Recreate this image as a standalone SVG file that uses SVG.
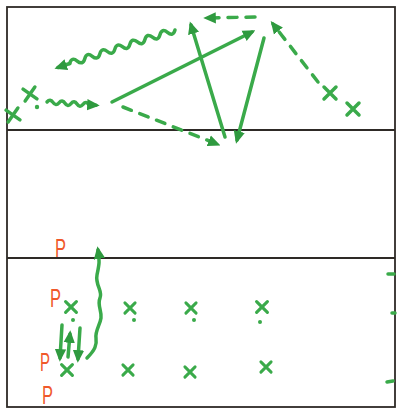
<svg xmlns="http://www.w3.org/2000/svg" xmlns:xlink="http://www.w3.org/1999/xlink" width="397" height="409" viewBox="0 0 397 409">
<style>
.frame{fill:none;stroke:#2e2a26;stroke-width:1.8}
.g{fill:none;stroke:#3aaa4a;stroke-width:3.5;stroke-linecap:round;stroke-linejoin:round}
.d{stroke-dasharray:9 9}
.dot{fill:#3aaa4a}
.p{font-family:"Liberation Sans",Arial,sans-serif;font-size:26px;fill:#f0582a}
</style>
<defs>
<marker id="ah" viewBox="0 0 10 10" refX="7" refY="5" markerWidth="3.6" markerHeight="3.6" orient="auto" markerUnits="strokeWidth">
<path d="M0,0.5 L10,5 L0,9.5 z" fill="#2f9a3f"/>
</marker>
<path id="x" d="M-6,-6 L6,6 M6,-6 L-6,6"/>
</defs>
<rect width="397" height="409" fill="#fff"/>
<g id="field">
<rect class="frame" x="7" y="7" width="388" height="400"/>
<line class="frame" x1="7" y1="130" x2="395" y2="130"/>
<line class="frame" x1="7" y1="258" x2="395" y2="258"/>
</g>
<g id="players">
<use href="#x" class="g" transform="translate(30,94) rotate(-10)"/>
<use href="#x" class="g" transform="translate(13,115) rotate(-10)"/>
<use href="#x" class="g" transform="translate(330,93)"/>
<use href="#x" class="g" transform="translate(353,109)"/>
<circle class="dot" cx="37" cy="107" r="2.2"/>
<use href="#x" class="g" transform="translate(71,307) scale(0.9)"/>
<use href="#x" class="g" transform="translate(130,308) scale(0.85)"/>
<use href="#x" class="g" transform="translate(191,308) scale(0.85)"/>
<use href="#x" class="g" transform="translate(262,307) scale(0.9)"/>
<use href="#x" class="g" transform="translate(67,370) scale(0.9)"/>
<use href="#x" class="g" transform="translate(128,370) scale(0.85)"/>
<use href="#x" class="g" transform="translate(190,372) scale(0.85)"/>
<use href="#x" class="g" transform="translate(266,367) scale(0.85)"/>
<circle class="dot" cx="134" cy="320" r="2"/>
<circle class="dot" cx="194" cy="320" r="2"/>
<circle class="dot" cx="260" cy="322" r="2"/>
<circle class="dot" cx="73" cy="320" r="2"/>
</g>
<g id="poles">
<text class="p" x="55" y="257" textLength="11" lengthAdjust="spacingAndGlyphs">P</text>
<text class="p" x="50" y="307" textLength="11" lengthAdjust="spacingAndGlyphs">P</text>
<text class="p" x="40" y="371" textLength="10" lengthAdjust="spacingAndGlyphs">P</text>
<text class="p" x="42" y="404" textLength="11" lengthAdjust="spacingAndGlyphs">P</text>
</g>
<g id="connectors">
<path class="g" d="M175 30 q-1.95 6.9 -7.52 2.39 t-7.52 2.39 t-7.52 2.39 t-7.52 2.39 t-7.52 2.39 t-7.52 2.39 t-7.52 2.39 t-7.52 2.39 t-7.52 2.39 t-7.52 2.39 t-7.52 2.39 t-7.52 2.39 t-7.52 2.39 t-7.52 2.39"/>
<path class="g" d="M69.7 63.5 L58 67.5" marker-end="url(#ah)"/>
<path class="g" d="M47 102 q3.2 -3.8 6 0.4 t6 0.4 t6 0.4 t6 0.4 t6 0.4 t6 0.4 t6 0.4"/>
<path class="g" d="M89 104.8 L96 105.2" marker-end="url(#ah)"/>
<path class="g" d="M112 102 L252 32" marker-end="url(#ah)"/>
<path class="g" d="M225 137 L191 25" marker-end="url(#ah)"/>
<path class="g" d="M264 38 L237 140" marker-end="url(#ah)"/>
<path class="g d" d="M123 107 L217 144" marker-end="url(#ah)"/>
<path class="g d" d="M318 82 L273 24" marker-end="url(#ah)"/>
<path class="g d" d="M255 17 L207 18" marker-end="url(#ah)"/>
<path class="g" d="M87 358 C95 350 97 345 96 338 S100 325 101 318 S97 305 100 298 S95 285 97 275 S100 262 98 250" marker-end="url(#ah)"/>
<path class="g" d="M62 325 L60 358" marker-end="url(#ah)"/>
<path class="g" d="M68 357 L70 334" marker-end="url(#ah)"/>
<path class="g" d="M80 328 L78 359" marker-end="url(#ah)"/>
<path class="g" d="M388 274 L394 274"/>
<path class="g" d="M392 313 L395 313"/>
<path class="g" d="M387 382 L393 381"/>
</g>
</svg>
